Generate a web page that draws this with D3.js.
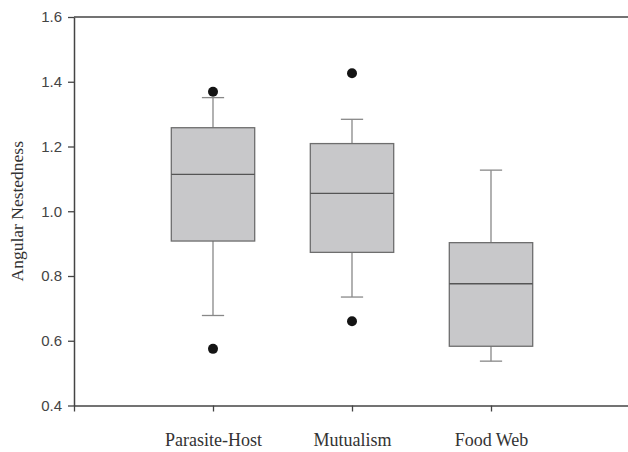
<!DOCTYPE html>
<html>
<head>
<meta charset="utf-8">
<script src="https://cdn.jsdelivr.net/npm/d3@7"></script>
<style>
  body { margin: 0; background: #fff; }
  svg { display: block; }
</style>
</head>
<body>
<script>
// box plot values
var categories = ["Parasite-Host", "Mutualism", "Food Web"];
var whiskerLow = [0.678, 0.735, 0.537];
var q1 = [0.908, 0.873, 0.583];
var median = [1.114, 1.055, 0.776];
var q3 = [1.258, 1.209, 0.903];
var whiskerHigh = [1.351, 1.284, 1.127];
var outliers = [[0.575, 1.369], [0.66, 1.426], []];
var yTicks = [0.4, 0.6, 0.8, 1.0, 1.2, 1.4, 1.6];

var width = 628, height = 452;
var margin = {top: 17, left: 74, bottom: 47};

var svg = d3.select("body").append("svg")
    .attr("width", width)
    .attr("height", height);

var x = d3.scaleLinear().domain([0, 4]).range([margin.left, 630]);
var y = d3.scaleLinear().domain([0.4, 1.6]).range([height - margin.bottom + 0.5, margin.top]);

var boxW = x(0.6) - x(0);
var capW = x(0.16) - x(0);

// top frame line
svg.append("line")
    .attr("x1", x(0)).attr("x2", x(4))
    .attr("y1", y(1.6)).attr("y2", y(1.6))
    .attr("stroke", "#444").attr("stroke-width", 1.5);

var boxes = svg.append("g");
categories.forEach(function(c, i) {
    var cx = x(i + 1);
    var g = boxes.append("g");
    // whiskers
    g.append("line").attr("x1", cx).attr("x2", cx)
        .attr("y1", y(q3[i])).attr("y2", y(whiskerHigh[i]))
        .attr("stroke", "#888").attr("stroke-width", 1.3);
    g.append("line").attr("x1", cx).attr("x2", cx)
        .attr("y1", y(q1[i])).attr("y2", y(whiskerLow[i]))
        .attr("stroke", "#888").attr("stroke-width", 1.3);
    [whiskerLow[i], whiskerHigh[i]].forEach(function(v) {
        g.append("line").attr("x1", cx - capW / 2).attr("x2", cx + capW / 2)
            .attr("y1", y(v)).attr("y2", y(v))
            .attr("stroke", "#888").attr("stroke-width", 1.3);
    });
    // box
    g.append("rect")
        .attr("x", cx - boxW / 2).attr("width", boxW)
        .attr("y", y(q3[i])).attr("height", y(q1[i]) - y(q3[i]))
        .attr("fill", "#c8c8ca").attr("stroke", "#6e6e6e").attr("stroke-width", 1.3);
    g.append("line").attr("x1", cx - boxW / 2).attr("x2", cx + boxW / 2)
        .attr("y1", y(median[i])).attr("y2", y(median[i]))
        .attr("stroke", "#555").attr("stroke-width", 1.3);
    // outliers
    outliers[i].forEach(function(v) {
        g.append("circle").attr("cx", cx).attr("cy", y(v)).attr("r", 5)
            .attr("fill", "#141414");
    });
});

// y axis
var yAxis = svg.append("g")
    .attr("transform", "translate(" + x(0) + ",0)")
    .call(d3.axisLeft(y).tickValues(yTicks).tickFormat(d3.format(".1f"))
        .tickSize(6).tickSizeOuter(0).tickPadding(6));
yAxis.select(".domain").attr("stroke", "#444").attr("stroke-width", 1.5);
yAxis.selectAll(".tick line").attr("stroke", "#444").attr("stroke-width", 1.3);
yAxis.selectAll(".tick text")
    .attr("fill", "#444")
    .style("font-family", "'Liberation Sans', Arial, sans-serif")
    .style("font-size", "15px");

// x axis
var xAxis = svg.append("g")
    .attr("transform", "translate(0," + y(0.4) + ")")
    .call(d3.axisBottom(x).tickValues([0, 1, 2, 3])
        .tickFormat(function(d) { return d === 0 ? "" : categories[d - 1]; })
        .tickSize(6).tickSizeOuter(0).tickPadding(22));
xAxis.select(".domain").attr("stroke", "#444").attr("stroke-width", 1.5);
xAxis.selectAll(".tick line").attr("stroke", "#444").attr("stroke-width", 1.3);
xAxis.selectAll(".tick text")
    .attr("fill", "#333")
    .style("font-family", "'Liberation Serif', 'Times New Roman', serif")
    .style("font-size", "18px");

// y axis title
svg.append("text")
    .attr("transform", "translate(23," + y(1.0) + ") rotate(-90)")
    .attr("text-anchor", "middle")
    .attr("fill", "#333")
    .style("font-family", "'Liberation Serif', 'Times New Roman', serif")
    .style("font-size", "17.5px")
    .text("Angular Nestedness");
</script>
</body>
</html>
